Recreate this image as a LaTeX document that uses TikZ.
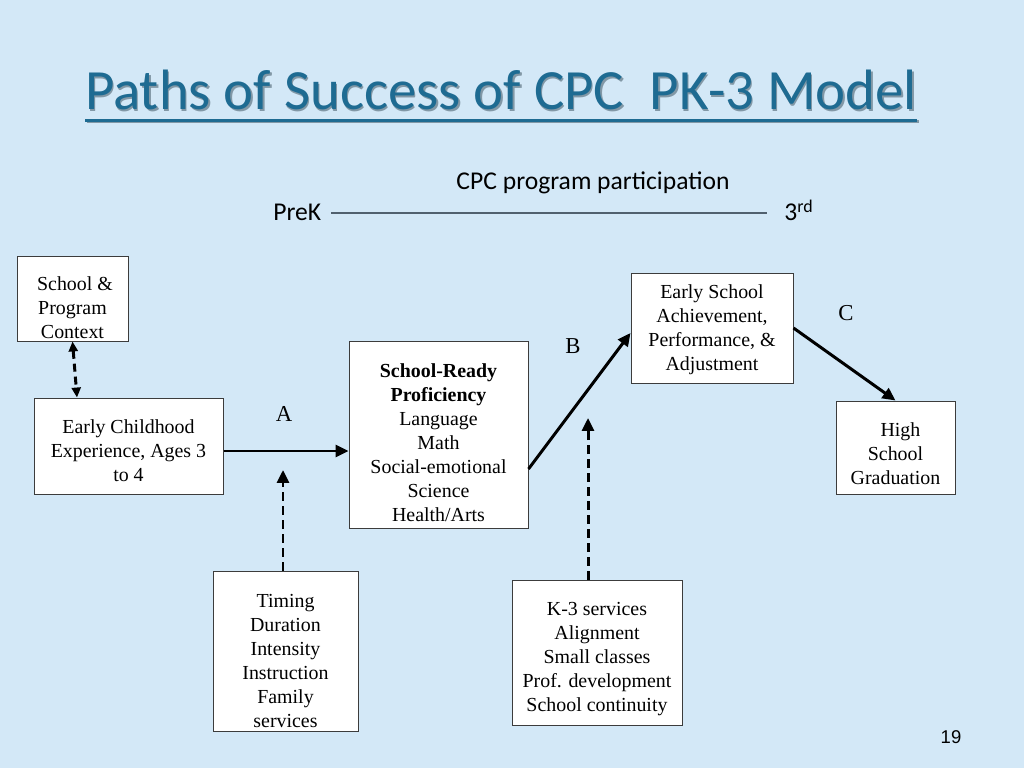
\documentclass[tikz,border=0pt]{standalone}
\usepackage{fontspec}
\setmainfont{Liberation Serif}
\newfontfamily\calib{Carlito}
\newfontfamily\arialf{Liberation Sans}
\usetikzlibrary{arrows.meta}
\def\pxu{0.703125pt}
\newcommand\sdn[1]{\rule{0pt}{#1}}
\definecolor{bg}{HTML}{D3E8F7}
\definecolor{titlec}{HTML}{1E6B92}
\definecolor{tshadow}{HTML}{8298A6}
\definecolor{boxline}{HTML}{3C3C3C}
\definecolor{tline}{HTML}{50606E}
\tikzset{
  box/.style={draw=boxline, line width=0.7pt, fill=white, inner sep=0pt, align=center,
              font=\fontsize{14}{16.9}\selectfont},
  lbl/.style={font=\fontsize{16}{19}\selectfont, inner sep=0pt},
  arr/.style={line width=2.1pt, -{Triangle[length=9.1pt,width=8.4pt]}},
  darr/.style={line width=2.1pt, dash pattern=on 6.3pt off 3.5pt, -{Triangle[length=9.1pt,width=8.4pt]}},
  ddarr/.style={line width=2.1pt, dash pattern=on 5.6pt off 3.5pt, {Triangle[length=7pt,width=6.3pt]}-{Triangle[length=7pt,width=6.3pt]}},
}
\begin{document}
\begin{tikzpicture}[x=\pxu, y=-\pxu]
\fill[bg] (0,0) rectangle (1024,768);
\useasboundingbox (0,0) rectangle (1024,768);

% title
\node[font=\calib\fontsize{40}{48}\selectfont, text=tshadow, inner sep=0pt, anchor=base] (tts) at (502.5,111.5) {Paths of Success of CPC\ \ PK-3 Model};
\node[font=\calib\fontsize{40}{48}\selectfont, text=titlec, inner sep=0pt, anchor=base] (tt) at (501,110) {Paths of Success of CPC\ \ PK-3 Model};
\fill[tshadow] (86.5,120.5) rectangle (918.5,123.5);
\fill[titlec] (85,119) rectangle (917,122);

% timeline
\node[font=\calib\fontsize{18}{21}\selectfont, inner sep=0pt, anchor=base] (cpc) at (593,190) {CPC program participation};
\node[font=\calib\fontsize{18}{21}\selectfont, inner sep=0pt, anchor=base west] (pk) at (273,221) {PreK};
\node[font=\calib\fontsize{18}{21}\selectfont, inner sep=0pt, anchor=base west] (rd) at (784,221) {3\textsuperscript{rd}};
\coordinate (l1) at (328,213);
\coordinate (l2) at (767,213);
\draw[tline, line width=0.9pt] (pk.east |- l1) ++(10,0) -- (l2);

% boxes
\node[box, minimum width=111*\pxu, minimum height=85*\pxu] (sp) at (72.5,298.5) {\sdn{22.3pt}\ School \&\\Program\\Context};
\node[box, minimum width=189*\pxu, minimum height=96*\pxu] (ec) at (128.5,446) {\sdn{16.6pt}Early Childhood\\Experience, Ages 3\\to 4};
\node[box, minimum width=179*\pxu, minimum height=187*\pxu] (sr) at (438.5,434.5) {\sdn{20.8pt}\textbf{School-Ready}\\\textbf{Proficiency}\\Language\\Math\\Social-emotional\\Science\\Health/Arts};
\node[box, minimum width=162*\pxu, minimum height=110*\pxu] (es) at (712,328) {\sdn{12.4pt}Early School\\Achievement,\\Performance, \&\\Adjustment};
\node[box, minimum width=119*\pxu, minimum height=93*\pxu] (hs) at (895.5,447.5) {\sdn{18.7pt}\ \ High\\School\\Graduation};
\node[box, minimum width=145*\pxu, minimum height=160*\pxu] (tm) at (285.5,651) {\sdn{23pt}Timing\\Duration\\Intensity\\Instruction\\Family\\services};
\node[box, minimum width=170*\pxu, minimum height=145*\pxu] (k3) at (597,652.5) {\sdn{18.7pt}K-3 services\\Alignment\\Small classes\\Prof. development\\School continuity};

% labels
\node[lbl] (la) at (284,414) {A};
\node[lbl] (lb) at (573,346) {B};
\node[lbl] (lc) at (846,313) {C};

% connectors
\coordinate (ya) at (0,451);
\coordinate (yb1) at (0,469);
\coordinate (yb2) at (0,333);
\coordinate (xs) at (77,0);
\coordinate (tA) at (283,470);
\coordinate (kB) at (588,418);
\draw[arr] (ec.east |- ya) -- (sr.west |- ya);
\draw[arr] (sr.east |- yb1) -- (es.west |- yb2);
\draw[arr] (es.east) -- (hs.north);
\draw[ddarr] (sp.south) -- (ec.north -| xs);
\draw[darr] (tm.north -| tA) -- (tA);
\draw[darr] (k3.north -| kB) -- (kB);

% page number
\node[font=\arialf\fontsize{13}{15}\selectfont, inner sep=0pt] (pn) at (951,737) {19};
\end{tikzpicture}
\end{document}
